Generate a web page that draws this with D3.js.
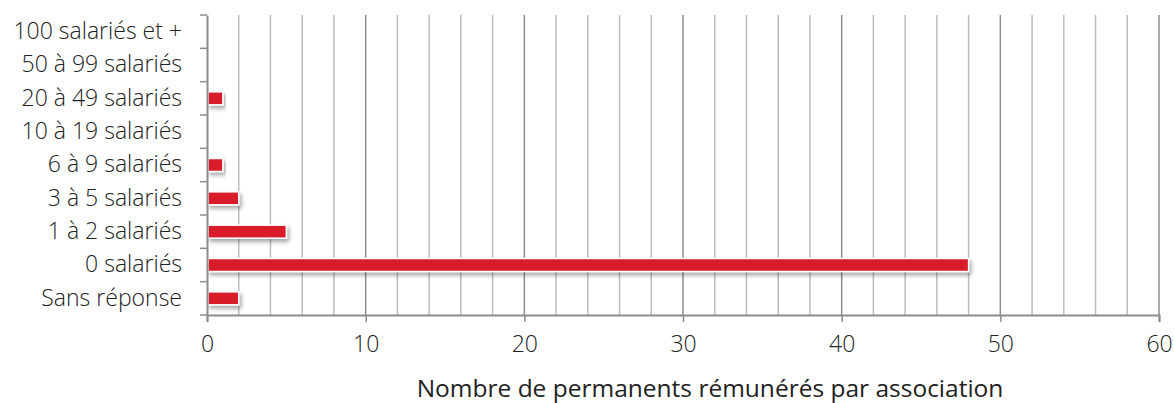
<!DOCTYPE html>
<html>
<head>
<meta charset="utf-8">
<script src="https://cdn.jsdelivr.net/npm/d3@7"></script>
<style>
body{margin:0;background:#fff;}
text{font-family:"Open Sans",sans-serif;fill:#222;}
</style>
</head>
<body>
<svg id="chart"></svg>
<script>
var categories=["100 salariés et +","50 à 99 salariés","20 à 49 salariés","10 à 19 salariés","6 à 9 salariés","3 à 5 salariés","1 à 2 salariés","0 salariés","Sans réponse"];
var values=[0,0,1,0,1,2,5,48,2];
var xTicks=[0,10,20,30,40,50,60];
var gridTicks=d3.range(0,61,2);
var axisTitle="Nombre de permanents rémunérés par association";

var w=1174,h=403;
var margin={left:207,right:15,top:15,bottom:88};

var svg=d3.select("#chart").attr("width",w).attr("height",h);

var defs=svg.append("defs");
var f=defs.append("filter").attr("id","shadow")
  .attr("x","-10%").attr("y","-50%").attr("width","130%").attr("height","250%");
f.append("feDropShadow").attr("dx",2).attr("dy",3).attr("stdDeviation",2)
  .attr("flood-color","#000").attr("flood-opacity",0.35);

var xScale=d3.scaleLinear().domain([0,60]).range([margin.left,w-margin.right]);
var yScale=d3.scaleBand().domain(categories).range([margin.top,h-margin.bottom]);

var data=categories.map(function(c,i){return {cat:c,value:values[i]};});

// gridlines
svg.append("g").selectAll("line")
  .data(gridTicks.filter(function(d){return d>0;}))
  .enter().append("line")
  .attr("x1",function(d){return xScale(d);})
  .attr("x2",function(d){return xScale(d);})
  .attr("y1",margin.top).attr("y2",h-margin.bottom)
  .attr("stroke",function(d){return d%10==0?"#8c8c8c":"#bcbcbc";})
  .attr("stroke-width",1.5);

// bars
var barH=13;
svg.append("g").selectAll("rect")
  .data(data.filter(function(d){return d.value>0;}))
  .enter().append("rect")
  .attr("x",xScale(0)+1)
  .attr("y",function(d){return yScale(d.cat)+yScale.bandwidth()/2-barH/2;})
  .attr("width",function(d){return xScale(d.value)-xScale(0)-1;})
  .attr("height",barH)
  .attr("fill","#d91f2a")
  .attr("stroke","#fff").attr("stroke-width",1.5)
  .attr("filter","url(#shadow)");

// x axis
var xAxis=d3.axisBottom(xScale).tickValues(xTicks).tickSize(7).tickPadding(14);
var gx=svg.append("g")
  .attr("transform","translate(0,"+(h-margin.bottom)+")")
  .call(xAxis);
gx.select(".domain").attr("stroke","#8c8c8c").attr("stroke-width",2);
gx.selectAll(".tick line").attr("stroke","#8c8c8c").attr("stroke-width",1.5);
gx.selectAll(".tick text").style("font-size","23px").style("font-weight",300).attr("fill","#222");

// y axis
var yAxis=d3.axisLeft(yScale).tickSize(0).tickPadding(25);
var gy=svg.append("g")
  .attr("transform","translate("+margin.left+",0)")
  .call(yAxis);
gy.select(".domain").attr("stroke","#8c8c8c").attr("stroke-width",2);
gy.selectAll(".tick text").style("font-size","23px").style("font-weight",300).attr("fill","#222");

// y band boundary ticks
var bounds=categories.map(function(c){return yScale(c);}).concat([h-margin.bottom]);
svg.append("g").selectAll("line")
  .data(bounds).enter().append("line")
  .attr("x1",margin.left-7).attr("x2",margin.left)
  .attr("y1",function(d){return d;}).attr("y2",function(d){return d;})
  .attr("stroke","#8c8c8c").attr("stroke-width",1.5);

// axis title
svg.append("text")
  .attr("x",(xScale(0)+xScale(60))/2 + 27).attr("y",397)
  .attr("text-anchor","middle")
  .style("font-size","24.5px")
  .text(axisTitle);
</script>
</body>
</html>
